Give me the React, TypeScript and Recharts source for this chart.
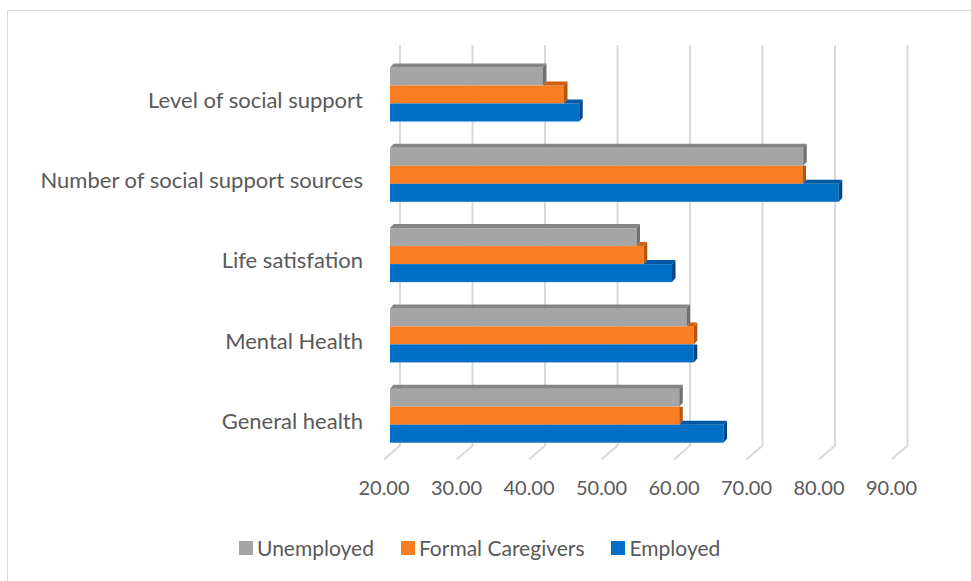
import React from 'react';
import { BarChart, Bar, XAxis, YAxis, CartesianGrid, Legend } from 'recharts';

const categories = [
  'Level of social support',
  'Number of social support sources',
  'Life satisfation',
  'Mental Health',
  'General health',
];
const unemployed = [41.1, 77.0, 54.0, 60.9, 59.9];
const formalCaregivers = [44.0, 76.9, 55.0, 61.9, 59.9];
const employed = [46.1, 81.9, 58.9, 61.9, 66.0];
const xTicks = [20, 30, 40, 50, 60, 70, 80, 90];
const seriesNames = ['Unemployed', 'Formal Caregivers', 'Employed'];

const data = categories.map((c, i) => ({
  category: c,
  unemployed: unemployed[i],
  formal: formalCaregivers[i],
  employed: employed[i],
}));

const FONT = 'Lato, "Open Sans", sans-serif';
const TEXT = '#595959';
const DOMAIN_MIN = 20;
const DX = 3.5;
const DY = 4;

function make3DBar(key: string, aboveKey: string | null, front: string, top: string, side: string) {
  return (props: any) => {
    const { x, y, width, height, payload } = props;
    if (!width || width <= 0) return <g />;
    const v = payload[key];
    const ratio = width / (v - DOMAIN_MIN);
    const right = x + width;
    let topLeft = x;
    let hidden = false;
    if (aboveKey) {
      const aboveEnd = x + (payload[aboveKey] - DOMAIN_MIN) * ratio;
      if (aboveEnd >= right) hidden = true;
      else topLeft = Math.max(x, aboveEnd);
    }
    const topPts = `${topLeft},${y} ${right},${y} ${right + DX},${y - DY} ${topLeft + DX},${y - DY}`;
    const sidePts = hidden
      ? `${right},${y} ${right + DX},${y} ${right + DX},${y + height - DY} ${right},${y + height}`
      : `${right},${y} ${right + DX},${y - DY} ${right + DX},${y + height - DY} ${right},${y + height}`;
    return (
      <g>
        <rect x={x} y={y} width={width} height={height} fill={front} />
        {!hidden && <polygon points={topPts} fill={top} />}
        <polygon points={sidePts} fill={side} />
      </g>
    );
  };
}

const grayShape = make3DBar('unemployed', null, '#A5A5A5', '#858585', '#707070');
const orangeShape = make3DBar('formal', 'unemployed', '#FA7D22', '#D0600F', '#B8520C');
const blueShape = make3DBar('employed', 'formal', '#0070C6', '#0058A0', '#00478A');

const GridLine = (props: any) => {
  const { x1, y1, y2, key } = props;
  const pts = `${x1 + 10},${y1 - 9} ${x1 + 10},${y2 - 10} ${x1 - 6},${y2 + 4}`;
  return <polyline key={key} points={pts} fill="none" stroke="#D9D9D9" strokeWidth={2} />;
};

const XTick = (props: any) => {
  const { x, y, payload } = props;
  return (
    <text x={x - 6} y={y + 31} textAnchor="middle" dominantBaseline="central" fill={TEXT} fontSize={20} fontFamily={FONT}>
      {Number(payload.value).toFixed(2)}
    </text>
  );
};

const YTick = (props: any) => {
  const { x, y, payload } = props;
  return (
    <text x={x} y={y + 5} textAnchor="end" dominantBaseline="central" fill={TEXT} fontSize={22} fontFamily={FONT}>
      {payload.value}
    </text>
  );
};

const LegendContent = (props: any) => {
  const payload = [...(props.payload || [])].sort(
    (a: any, b: any) => seriesNames.indexOf(a.value) - seriesNames.indexOf(b.value)
  );
  return (
    <div style={{ display: 'flex', alignItems: 'center', paddingLeft: 239, fontFamily: FONT, fontSize: 21, color: TEXT }}>
      {payload.map((p: any) => (
        <div key={p.value} style={{ display: 'flex', alignItems: 'center', marginRight: 27 }}>
          <span style={{ display: 'inline-block', width: 14, height: 14, background: p.color, marginRight: 4 }} />
          <span>{p.value}</span>
        </div>
      ))}
    </div>
  );
};

export default function App() {
  return (
    <div style={{ position: 'absolute', left: 0, top: 0, width: 971, height: 581, overflow: 'hidden', background: '#fff' }}>
      <div style={{ position: 'absolute', left: 7, top: 10, width: 990, height: 600, border: '1.5px solid #D9D9D9', boxSizing: 'border-box' }} />
      <div style={{ position: 'absolute', left: 0, top: 0 }}>
        <BarChart
          width={971}
          height={581}
          data={data}
          layout="vertical"
          margin={{ top: 54, right: 73.5, bottom: 85.5, left: 0 }}
          barCategoryGap={13.5}
          barGap={0}
        >
          <CartesianGrid horizontal={false} vertical={GridLine} />
          <XAxis
            type="number"
            domain={[20, 90]}
            ticks={xTicks}
            axisLine={false}
            tickLine={false}
            tickSize={0}
            tickMargin={0}
            height={40}
            tick={<XTick />}
            interval={0}
          />
          <YAxis
            type="category"
            dataKey="category"
            width={390}
            axisLine={false}
            tickLine={false}
            tickSize={0}
            tickMargin={27}
            tick={<YTick />}
            interval={0}
          />
          <Legend
            layout="horizontal"
            verticalAlign="middle"
            align="center"
            wrapperStyle={{ top: 535, left: 0, width: 971 }}
            content={<LegendContent />}
          />
          <Bar dataKey="unemployed" name={seriesNames[0]} fill="#A5A5A5" shape={grayShape} isAnimationActive={false} />
          <Bar dataKey="formal" name={seriesNames[1]} fill="#FA7D22" shape={orangeShape} isAnimationActive={false} />
          <Bar dataKey="employed" name={seriesNames[2]} fill="#0070C6" shape={blueShape} isAnimationActive={false} />
        </BarChart>
      </div>
    </div>
  );
}
